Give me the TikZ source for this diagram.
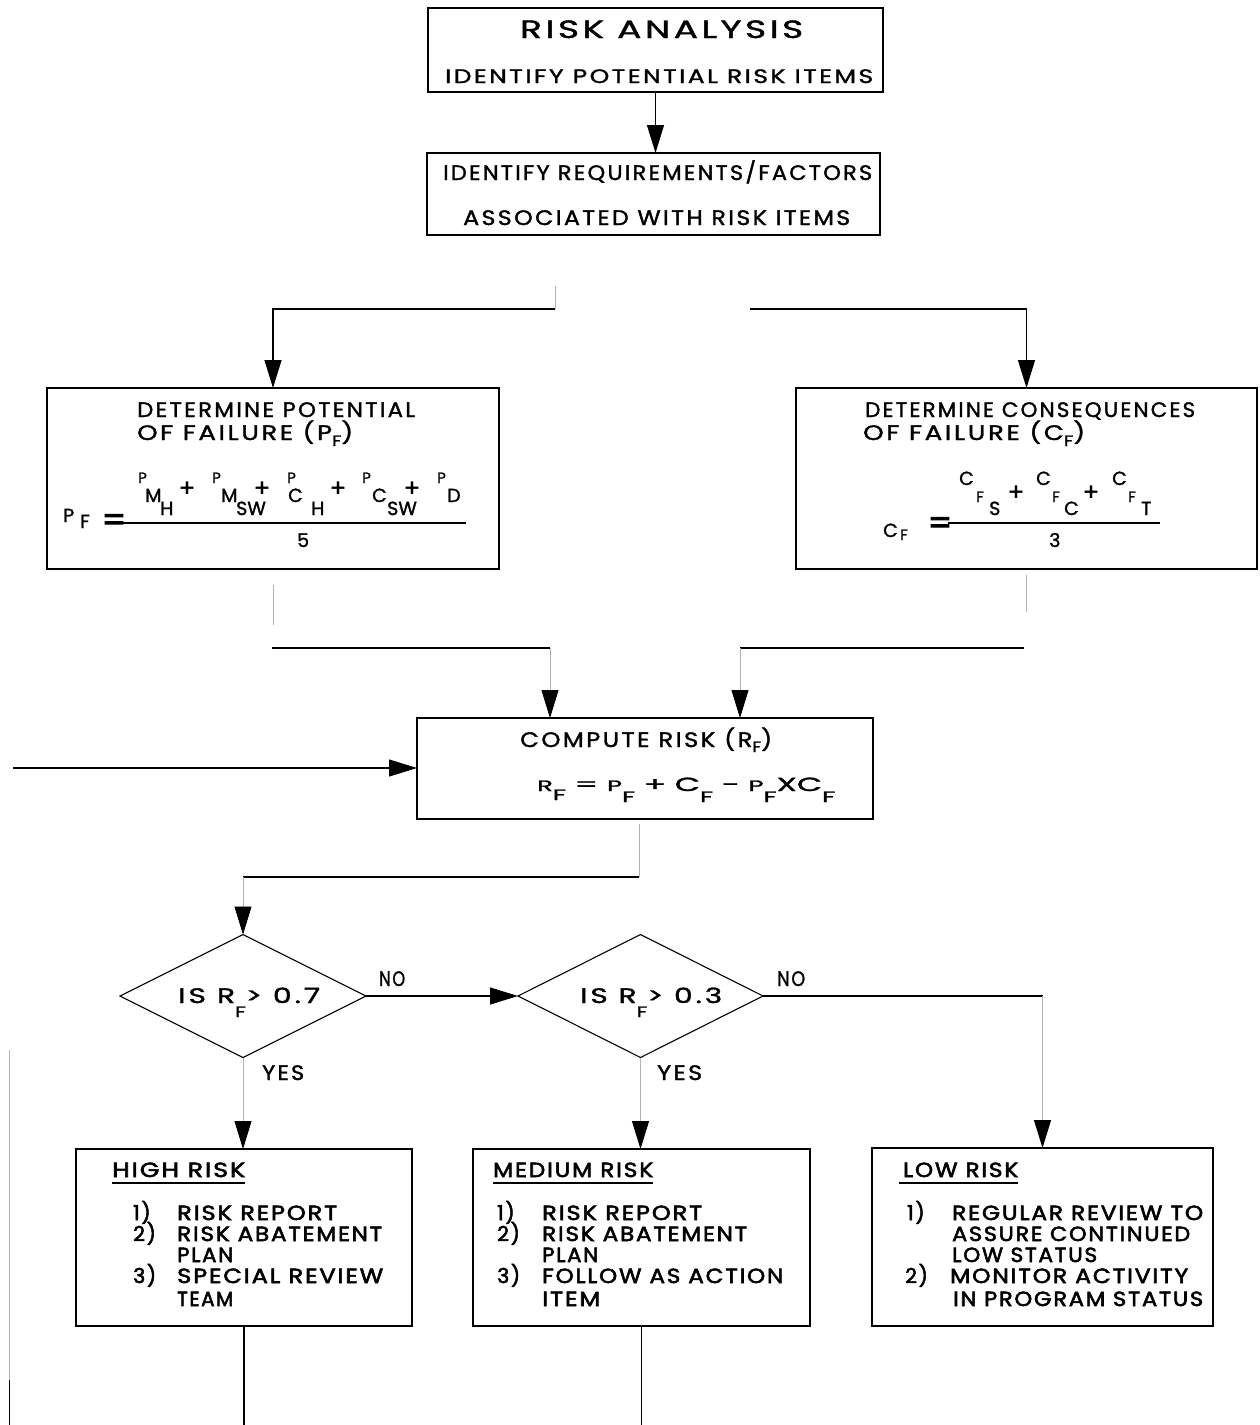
\documentclass[tikz,border=0pt]{standalone}
\usepackage{fontspec}
\usepackage{graphicx}
\usetikzlibrary{arrows.meta,shapes.geometric}
\newfontfamily\popf{Poppins}[LetterSpace=10,FakeBold=1.4]
\newfontfamily\popb{Poppins}[LetterSpace=8,FakeBold=2.6]
\newfontfamily\popn{Poppins}[FakeBold=1.4]
\newlength\fitlen
\newcommand\fitto[2]{\settowidth\fitlen{#2}\pgfmathsetmacro\fitsc{#1/\fitlen}\scalebox{\fitsc}[1]{#2}}
\newcommand\dn[2]{\raisebox{-#1pt}{\fontsize{15}{15}\selectfont #2}}
\newcommand\smc[1]{{\fontsize{15}{15}\selectfont #1}}
\tikzset{
 bx/.style={draw, line width=1.3pt, inner sep=0pt, outer sep=0pt, rectangle},
 dm/.style={draw, line width=1.1pt, diamond, inner sep=0pt, outer sep=0pt, aspect=2},
 tx/.style={inner sep=0pt, anchor=base west, font=\popf\fontsize{21}{22}\selectfont},
 txb/.style={inner sep=0pt, anchor=base west, font=\popb\fontsize{20.5}{22}\selectfont},
 fm/.style={inner sep=0pt, anchor=base west, font=\popn\fontsize{19}{20}\selectfont},
 fms/.style={inner sep=0pt, anchor=base west, font=\popn\fontsize{15}{16}\selectfont},
 fmc/.style={inner sep=0pt, anchor=center, font=\popn\fontsize{24}{24}\selectfont},
 eqs/.style={inner sep=0pt, anchor=center, font=\popb\fontsize{34}{34}\selectfont},
 ln/.style={line width=1.2pt},
 fnt/.style={line width=0.8pt, draw=black!30},
 arr/.style={ln, -{Triangle[width=17pt,length=28pt]}},
 farr/.style={fnt, -{Triangle[width=17pt,length=28pt,color=black,fill=black]}},
}
\begin{document}
\begin{tikzpicture}[x=1pt,y=-1pt]
\useasboundingbox (0,0) rectangle (1260,1425);

% ---------- boxes ----------
\node[bx, minimum width=455pt, minimum height=84pt] (b1) at (655.5,50) {};
\node[bx, minimum width=453pt, minimum height=82pt] (b2) at (653.5,194) {};
\node[bx, minimum width=452pt, minimum height=181pt] (b3) at (273,478.5) {};
\node[bx, minimum width=461pt, minimum height=181pt] (b4) at (1026.5,478.5) {};
\node[bx, minimum width=456pt, minimum height=101pt] (cb) at (645,768.5) {};
\node[dm, minimum width=246pt, minimum height=123pt] (d1) at (243,996) {};
\node[dm, minimum width=245pt, minimum height=123pt] (d2) at (640.5,996) {};
\node[bx, minimum width=336pt, minimum height=177pt] (hb) at (244,1237.5) {};
\node[bx, minimum width=337pt, minimum height=177pt] (mb) at (641.5,1237.5) {};
\node[bx, minimum width=341pt, minimum height=178pt] (lb) at (1042.5,1237) {};

% ---------- texts: top boxes ----------
\node[tx, font=\popf\fontsize{25}{26}\selectfont] (t1) at (520,38) {\fitto{283}{RISK ANALYSIS}};
\node[tx, font=\popf\fontsize{19.5}{20}\selectfont] (t2) at (445,83) {\fitto{428}{IDENTIFY POTENTIAL RISK ITEMS}};
\node[tx] (t3) at (443,180) {\fitto{429}{IDENTIFY REQUIREMENTS/FACTORS}};
\node[tx] (t4) at (463,225) {\fitto{387}{ASSOCIATED WITH RISK ITEMS}};

% ---------- box 3 ----------
\node[tx] (t5) at (137,417) {\fitto{278}{DETERMINE POTENTIAL}};
\node[tx] (t6) at (137,440) {\fitto{216}{OF FAILURE (P\dn{6}{F})}};
\node[fms] (fa1) at (138,483) {P};
\node[fm] (fa2) at (145,502) {M};
\node[fm] (fa3) at (160,515) {H};
\node[fmc] (fa4) at (187,489) {+};
\node[fms] (fa5) at (212,483) {P};
\node[fm] (fa6) at (221,502) {M};
\node[fm] (fa7) at (236,515) {SW};
\node[fmc] (fa8) at (262,489) {+};
\node[fms] (fa9) at (287,483) {P};
\node[fm] (fa10) at (288,502) {C};
\node[fm] (fa11) at (311,515) {H};
\node[fmc] (fa12) at (338,489) {+};
\node[fms] (fa13) at (362,483) {P};
\node[fm] (fa14) at (372,502) {C};
\node[fm] (fa15) at (387,515) {SW};
\node[fmc] (fa16) at (412,489) {+};
\node[fms] (fa17) at (437,483) {P};
\node[fm] (fa18) at (447,502) {D};
\node[fm] (fa19) at (63,522) {P};
\node[fm] (fa20) at (80,528) {F};
\node[eqs] (fa21) at (114,523) {=};
\node[fm] (fa22) at (297,547) {5};
\coordinate (fl1a) at (120,523);
\coordinate (fl1b) at (466,523);
\draw[ln] (fl1a) -- (fl1b);

% ---------- box 4 ----------
\node[tx] (t7) at (865,417) {\fitto{330}{DETERMINE CONSEQUENCES}};
\node[tx] (t8) at (863,440) {\fitto{222}{OF FAILURE (C\dn{6}{F})}};
\node[fm] (fb1) at (959,485) {C};
\node[fms] (fb2) at (976,502) {F};
\node[fm] (fb3) at (989,515) {S};
\node[fmc] (fb4) at (1016,493) {+};
\node[fm] (fb5) at (1036,485) {C};
\node[fms] (fb6) at (1052,502) {F};
\node[fm] (fb7) at (1064,515) {C};
\node[fmc] (fb8) at (1091,493) {+};
\node[fm] (fb9) at (1112,485) {C};
\node[fms] (fb10) at (1128,502) {F};
\node[fm] (fb11) at (1141,515) {T};
\node[fm] (fb12) at (883,537) {C};
\node[fms] (fb13) at (900,540) {F};
\node[eqs] (fb14) at (940,526) {=};
\node[fm] (fb15) at (1049,547) {3};
\coordinate (fl2a) at (948,523);
\coordinate (fl2b) at (1160,523);
\draw[ln] (fl2a) -- (fl2b);

% ---------- compute box ----------
\node[tx] (t9) at (520,747) {\fitto{252}{COMPUTE RISK (R\dn{5}{F})}};
\node[tx, font=\popn\fontsize{19}{20}\selectfont] (t10) at (537,791) {\fitto{298}{\smc{R}\dn{9}{F} = \smc{P}\dn{11}{F} + C\dn{11}{F} - \smc{P}\dn{11}{F}XC\dn{11}{F}}};

% ---------- decisions ----------
\node[tx, font=\popf\fontsize{21}{22}\selectfont] (t11) at (178,1003) {\fitto{142}{IS R\dn{14}{F}> 0.7}};
\node[tx, font=\popf\fontsize{21}{22}\selectfont] (t12) at (580,1003) {\fitto{142}{IS R\dn{14}{F}> 0.3}};
\node[tx] (t13) at (379,986) {\fitto{26}{NO}};
\node[tx] (t14) at (777,986) {\fitto{28}{NO}};
\node[tx] (t15) at (262,1080) {\fitto{42}{YES}};
\node[tx] (t16) at (657,1080) {\fitto{45}{YES}};

% ---------- high risk ----------
\node[txb] (h0) at (112,1177) {\fitto{133}{HIGH RISK}};
\draw[ln] ([yshift=-6pt]h0.base west) -- ([yshift=-6pt]h0.base east);
\node[txb] (hn1) at (133,1220) {1)};
\node[txb] (hn2) at (133,1241) {2)};
\node[txb] (hn3) at (133,1283) {3)};
\node[txb] (h1) at (177,1220) {\fitto{160}{RISK REPORT}};
\node[txb] (h2) at (177,1241) {\fitto{205}{RISK ABATEMENT}};
\node[txb] (h3) at (177,1262) {\fitto{56}{PLAN}};
\node[txb] (h4) at (177,1283) {\fitto{206}{SPECIAL REVIEW}};
\node[txb] (h5) at (177,1306) {\fitto{56}{TEAM}};

% ---------- medium risk ----------
\node[txb] (m0) at (493,1177) {\fitto{160}{MEDIUM RISK}};
\draw[ln] ([yshift=-6pt]m0.base west) -- ([yshift=-6pt]m0.base east);
\node[txb] (mn1) at (497,1220) {1)};
\node[txb] (mn2) at (497,1241) {2)};
\node[txb] (mn3) at (497,1283) {3)};
\node[txb] (m1) at (542,1220) {\fitto{160}{RISK REPORT}};
\node[txb] (m2) at (542,1241) {\fitto{205}{RISK ABATEMENT}};
\node[txb] (m3) at (542,1262) {\fitto{56}{PLAN}};
\node[txb] (m4) at (542,1283) {\fitto{241}{FOLLOW AS ACTION}};
\node[txb] (m5) at (542,1306) {\fitto{58}{ITEM}};

% ---------- low risk ----------
\node[txb] (l0) at (903,1177) {\fitto{115}{LOW RISK}};
\draw[ln] ([yshift=-6pt,xshift=-4pt]l0.base west) -- ([yshift=-6pt]l0.base east);
\node[txb] (ln1) at (907,1220) {1)};
\node[txb] (ln2) at (905,1283) {2)};
\node[txb] (l1) at (952,1220) {\fitto{251}{REGULAR REVIEW TO}};
\node[txb] (l2) at (952,1241) {\fitto{238}{ASSURE CONTINUED}};
\node[txb] (l3) at (952,1262) {\fitto{145}{LOW STATUS}};
\node[txb] (l4) at (950,1283) {\fitto{238}{MONITOR ACTIVITY}};
\node[txb] (l5) at (953,1306) {\fitto{250}{IN PROGRAM STATUS}};

% ---------- connectors ----------
\draw[arr] (b1.south) -- (b1.south |- b2.north);

\coordinate (j0) at (555,286);
\coordinate (j1) at (555,309);
\coordinate (j3) at (750,309);
\draw[fnt] (j0) -- (j1);
\draw[arr] (j1) -- (j1 -| b3.north) -- (b3.north);
\draw[arr] (j3) -- (j3 -| b4.north) -- (b4.north);

\coordinate (k0) at (273,585);
\coordinate (k1) at (273,625);
\coordinate (k2) at (272,648);
\coordinate (k3) at (550,648);
\draw[fnt] (k0) -- (k1);
\draw[ln] (k2) -- (k3);
\draw[farr] (k3) -- (k3 |- cb.north);

\coordinate (r0) at (1026,575);
\coordinate (r1) at (1026,612);
\coordinate (r2) at (1024,648);
\coordinate (r3) at (740,648);
\draw[fnt] (r0) -- (r1);
\draw[ln] (r2) -- (r3);
\draw[farr] (r3) -- (r3 |- cb.north);

\coordinate (lin) at (13,768);
\draw[arr] (lin) -- (lin -| cb.west);

\coordinate (s0) at (639,824);
\coordinate (s1) at (639,877);
\coordinate (s2) at (243,877);
\draw[fnt] (s0) -- (s1);
\draw[ln] (s1) -- (s2);
\draw[farr] (s2) -- (d1.north);

\draw[arr] (d1.east) -- (d2.west);
\coordinate (n2) at (1042.5,996);
\draw[ln] (d2.east) -- (n2);
\draw[farr] (n2) -- (lb.north);

\draw[farr] (d1.south) -- (d1.south |- hb.north);
\draw[farr] (d2.south) -- (d2.south |- mb.north);

\coordinate (e1) at (244,1425);
\coordinate (e2) at (641.5,1425);
\draw[ln] (hb.south) -- (e1);
\draw[ln] (mb.south) -- (e2);

\coordinate (v0) at (9,1050);
\coordinate (v1) at (9,1380);
\coordinate (v2) at (9,1425);
\draw[fnt] (v0) -- (v1);
\draw[ln, line width=0.9pt] (v1) -- (v2);
\end{tikzpicture}
\end{document}
